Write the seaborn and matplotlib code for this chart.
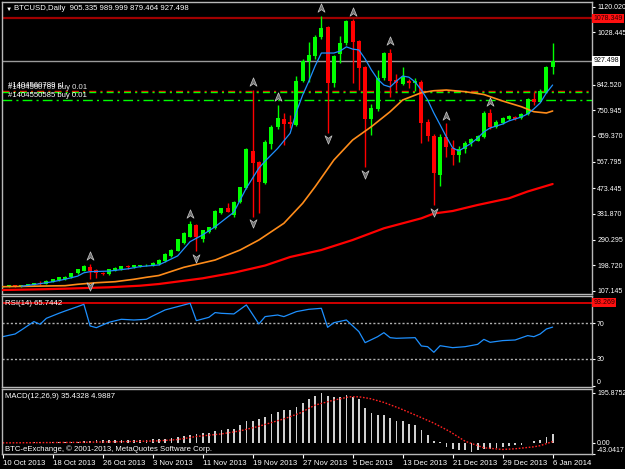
import numpy as np
import matplotlib
matplotlib.use('Agg')
import matplotlib.pyplot as plt
import seaborn as sns
from matplotlib import font_manager
from matplotlib.path import Path
from matplotlib.transforms import blended_transform_factory

sns.set_style('dark', {'axes.facecolor': 'black', 'figure.facecolor': 'black'})
plt.rcParams['font.family'] = ['Liberation Sans', 'DejaVu Sans']

# --- daily candles, 10 Oct 2013 .. 6 Jan 2014 (bar index 0..88) ---
opens = [123, 124, 125, 123, 127, 129, 135, 132, 140, 145, 150, 157, 170, 180, 194, 182, 172, 168, 180, 186,
         196, 192, 196, 198, 200, 203, 213, 232, 251, 277, 301, 342, 291, 318, 331, 384, 402, 378, 425, 473,
         607, 566, 493, 631, 690, 720, 710, 699, 855, 925, 945, 1012, 1049, 847, 950, 990, 1070, 997, 906, 719,
         755, 865, 956, 859, 846, 855, 847, 853, 710, 659, 520, 655, 616, 592, 612, 633, 643, 657, 740, 692,
         707, 719, 728, 722, 738, 790, 782, 817, 905.335]
highs = [126, 127, 128, 130, 132, 137, 143, 146, 151, 158, 160, 172, 186, 198, 205, 185, 176, 186, 192, 197,
         198, 201, 201, 202, 209, 220, 241, 256, 294, 316, 355, 345, 326, 336, 395, 404, 422, 428, 478, 616,
         823, 570, 645, 700, 770, 740, 734, 873, 935, 995, 1020, 1088, 1052, 948, 1015, 1073, 1075, 1000, 910, 775,
         894, 960, 970, 880, 906, 862, 866, 858, 720, 665, 665, 705, 645, 625, 640, 652, 662, 748, 755, 715,
         726, 733, 732, 742, 793, 817, 826, 910, 989.999]
lows = [121, 122, 123, 122, 125, 127, 128, 131, 138, 143, 148, 154, 167, 177, 150, 152, 164, 165, 178, 183,
        186, 189, 193, 195, 196, 200, 210, 230, 248, 274, 298, 250, 282, 315, 328, 380, 388, 372, 420, 470,
        372, 384, 488, 612, 684, 627, 687, 695, 850, 850, 935, 1005, 671, 835, 919, 985, 848, 823, 548, 663,
        750, 860, 800, 823, 841, 830, 820, 633, 640, 413, 480, 586, 556, 568, 600, 625, 640, 652, 684, 688,
        703, 716, 718, 720, 735, 770, 780, 812, 879.464]
closes = [124, 125, 124, 128, 131, 136, 131, 144, 149, 156, 158, 170, 184, 196, 178, 172, 168, 184, 190, 195,
          193, 199, 200, 200, 207, 218, 238, 253, 291, 313, 345, 301, 324, 334, 393, 402, 390, 425, 476, 613,
          562, 497, 639, 692, 722, 702, 703, 855, 925, 947, 1013, 1045, 847, 944, 990, 1070, 995, 901, 719, 758,
          865, 956, 855, 847, 868, 847, 855, 705, 659, 526, 657, 621, 592, 613, 633, 648, 659, 740, 692, 710,
          724, 731, 721, 738, 790, 779, 820, 905, 927.498]

# moving averages (bar index, price)
blue_days = [3, 5, 8, 10, 12, 13, 14, 17, 20, 22, 25, 28, 30, 32, 34, 37, 39, 41, 42, 44, 46] + list(range(47, 89))
blue_vals = [124, 130, 140, 149, 160, 172, 176, 178, 186, 194, 200, 232, 283, 307, 336, 388, 474, 545, 570, 615, 669,
             745, 805, 855, 909, 955, 955, 955, 962, 977, 969, 966, 934, 895, 862, 841, 834, 855, 873, 869, 852,
             823, 788, 741, 699, 656, 617, 606, 620, 634, 652, 674, 688, 695, 702, 713, 720, 727, 738, 756, 777,
             813, 841]
orange_days = [0, 10, 12, 15, 18, 21, 23, 25, 29, 34, 38, 41, 45, 48, 50, 53, 56, 59, 62, 64, 67, 69, 71, 74,
               77, 80, 83, 85, 87, 88]
orange_vals = [122.4, 126, 131, 136.6, 140.2, 148.8, 155.9, 162.3, 191.5, 217.5, 253.2, 288.8, 348.3, 419.5,
               478.7, 573.8, 645.1, 692.6, 745.9, 787.6, 813.6, 820.7, 823.2, 817.2, 807.2, 784, 763.7, 745.9,
               741.3, 748.4]
red_days = [0, 6, 10, 17, 22, 25, 32, 37, 42, 46, 51, 56, 61, 67, 69, 72, 76, 81, 84, 88]
red_vals = [110.6, 113.1, 115.3, 120.3, 126.0, 132.0, 152.3, 172.3, 197.9, 228.2, 253.2, 288.8, 330.5, 366.1,
            383.2, 392.1, 413.6, 437.3, 461.6, 488.3]

fractal_up = [14, 30, 40, 44, 51, 56, 62, 71, 78]
fractal_down = [14, 31, 40, 52, 58, 69]

# RSI(14)
rsi_days = [0, 2, 3, 5, 6, 7, 9, 10, 12, 13, 14, 15, 17, 19, 21, 23, 24, 26, 28, 30, 31, 33, 34, 35, 37, 39, 41,
            42, 44, 45, 47, 49, 51, 52, 53, 55, 57, 58, 60, 61, 62, 63, 66, 67, 68, 69, 70, 72, 74, 76, 77, 78,
            80, 82, 84, 85, 86, 87, 88]
rsi_vals = [55, 58, 62.5, 71.9, 68.9, 75.6, 81.2, 83.8, 88.7, 91.3, 67, 65.1, 71.1, 74.5, 73.7, 74.5, 78.2, 85,
            88.7, 92.4, 73, 76.7, 82, 81.2, 80.5, 90.6, 69.3, 77.5, 79.3, 77.5, 83.1, 85.7, 86.8, 65.5, 70.7,
            73.7, 60.7, 48.3, 55, 59.5, 53.9, 53.2, 53.9, 44.6, 43.8, 37.5, 44.9, 42.7, 43.8, 46.4, 52, 48.7,
            50.6, 51.3, 56.2, 55, 58, 63.6, 65.74]

# MACD(12,26,9): main as histogram, signal as dotted line
macd_main = [0.3, 0.4, 0.6, 0.9, 1.2, 1.5, 1.6, 1.8, 2.0, 2.5, 3.0, 3.5, 5.3, 6.7, 8.0, 9.3, 9.3, 9.3, 10.7, 10.7,
             12, 12, 12, 12, 13.3, 14.7, 14.7, 17.3, 22.7, 27, 29.5, 36, 40, 40, 46.7, 50.7, 54.7, 56, 70.6, 86.6,
             86.6, 93.3, 102.6, 113.3, 119.9, 128.9, 128.9, 141.8, 157.2, 171.4, 183, 195.88, 183, 180.4,
             177.8, 185.6, 180.4, 170.1, 137.9, 116, 109.5, 110.8, 99.2, 87.6, 83.8, 74.7, 68.3, 49, 32.2, 6.4,
             2.6, -15.5, -23.2, -29.6, -29.6, -34.8, -28.4, -25.8, -23.2, -20.6, -15.5, -12.9, -10.3, -6.4, -1.5,
             6.4, 12.9, 21.9, 35.43]
signal_days = [0, 12, 20, 25, 28, 31, 35, 38, 41, 45, 47.5, 50, 53, 55.5, 57, 58.7, 61, 63.5, 66, 69, 71.5, 74,
               77, 80, 82, 85, 86, 88]
signal_vals = [0, 2, 5, 8, 13, 25, 35, 47, 65, 94, 116, 148, 167.5, 180.4, 180.4, 174, 158.5, 135.3, 109.5,
               77.3, 45.1, 6.4, -19.3, -25.8, -23.2, -15.5, -11, 4.99]

date_ticks = [0, 8, 16, 24, 32, 40, 48, 56, 64, 72, 80, 88]
date_labels = ['10 Oct 2013', '18 Oct 2013', '26 Oct 2013', '3 Nov 2013', '11 Nov 2013', '19 Nov 2013',
               '27 Nov 2013', '5 Dec 2013', '13 Dec 2013', '21 Dec 2013', '29 Dec 2013', '6 Jan 2014']
price_ticks = [1120.020, 1028.445, 842.520, 750.945, 659.370, 567.795, 473.445, 381.870, 290.295, 198.720, 107.145]

W, H = 625, 469
fig = plt.figure(figsize=(W / 100, H / 100), dpi=100)
fs = 5.6

# narrow face for the price scale if it is installed, else a smaller regular one
installed = {f.name for f in font_manager.fontManager.ttflist}
if 'Liberation Sans Narrow' in installed:
    scale_font = dict(family=['Liberation Sans Narrow', 'DejaVu Sans'], size=6.0)
else:
    scale_font = dict(family=['Liberation Sans', 'DejaVu Sans'], size=5.0)


def px_axes(top, bottom, left=2, right=592):
    return fig.add_axes([left / W, 1 - bottom / H, (right - left) / W, (bottom - top) / H])


def px_text(x, y, s, size=fs, **kw):
    fig.text(x / W, 1 - y / H, s, color='white', fontsize=size, va='center', ha='left', **kw)


def box_label(a, y, s, fc, tc):
    tr = blended_transform_factory(a.transAxes, a.transData)
    a.text(1.002, y, s, transform=tr, color=tc, fontfamily=scale_font['family'], fontsize=scale_font['size'],
           va='center', ha='left', clip_on=False, zorder=10,
           bbox=dict(boxstyle='square,pad=0.2', fc=fc, ec='none'))


ax = px_axes(2, 294)
ax_rsi = px_axes(296, 387)
ax_macd = px_axes(389, 454)

for a in (ax, ax_rsi, ax_macd):
    a.set_facecolor('black')
    a.grid(False)
    a.set_xlim(-0.1, 94.3)
    for sp in a.spines.values():
        sp.set_color('#b8b8b8')
        sp.set_linewidth(1)
    a.yaxis.tick_right()
    a.tick_params(axis='y', colors='white', labelcolor='white', length=2.5, width=0.8,
                  direction='out', pad=1.2, right=True, left=False)
    a.tick_params(axis='x', bottom=False, labelbottom=False)

# --- main price panel ---
days = np.arange(len(opens))
o, h, l, c = map(np.asarray, (opens, highs, lows, closes))
col = np.where(c >= o, '#00ff00', '#ff0000')

ax.axhline(820.7, color='#ff0000', lw=1, ls=(0, (5, 3, 1.5, 3)), zorder=1)
ax.axhline(815.0, color='#00ff00', lw=1, ls=(0, (5, 3, 1.5, 3)), zorder=1)
ax.axhline(786.5, color='#00ff00', lw=1, ls=(0, (7, 3, 1.5, 3)), zorder=1)
ax.axhline(1078.349, color='#a00000', lw=1.6, zorder=1)
ax.axhline(927.498, color='#9a9a9a', lw=1, zorder=1)

ax.vlines(days, l, h, colors=col, lw=1, zorder=3)
ax.bar(days, np.maximum(np.abs(c - o), 3), bottom=np.minimum(o, c), width=0.62, color=col, lw=0, zorder=4)

sns.lineplot(x=red_days, y=red_vals, ax=ax, color='#ff0000', lw=1.6, zorder=5)
sns.lineplot(x=orange_days, y=orange_vals, ax=ax, color='#ff8c1a', lw=1.2, zorder=5)
sns.lineplot(x=blue_days, y=blue_vals, ax=ax, color='#1e90ff', lw=0.9, zorder=6)

chev = Path([(0, 1), (0.75, -0.8), (0, -0.25), (-0.75, -0.8), (0, 1)],
            [Path.MOVETO, Path.LINETO, Path.LINETO, Path.LINETO, Path.CLOSEPOLY])
chev_dn = Path(chev.vertices * [1, -1], chev.codes)
ax.scatter(fractal_up, h[fractal_up] + 27, marker=chev, s=45, fc='#6e6e6e', ec='#c8c8c8', lw=0.5, zorder=7)
ax.scatter(fractal_down, l[fractal_down] - 24, marker=chev_dn, s=45, fc='#6e6e6e', ec='#c8c8c8', lw=0.5, zorder=7)

ax.set_ylim(96.4, 1136.8)
ax.set_yticks(price_ticks)
ax.set_yticklabels([f'{v:.3f}' for v in price_ticks])
ax.set_xlabel('')
ax.set_ylabel('')
box_label(ax, 1078.349, '1078.349', '#ff1010', '#300000')
box_label(ax, 927.498, '927.498', 'white', 'black')

# --- RSI panel ---
ax_rsi.axhline(70, color='#b0b0b0', lw=1, ls=(0, (1.5, 1.5)))
ax_rsi.axhline(30, color='#b0b0b0', lw=1, ls=(0, (1.5, 1.5)))
ax_rsi.axhline(93.269, color='#d00000', lw=1.4)
sns.lineplot(x=rsi_days, y=rsi_vals, ax=ax_rsi, color='#1e90ff', lw=0.9)
ax_rsi.set_ylim(-1.4, 100.6)
ax_rsi.set_yticks([70, 30, 0])
ax_rsi.set_yticklabels(['70', '30', '0'])
ax_rsi.set_xlabel('')
ax_rsi.set_ylabel('')
box_label(ax_rsi, 93.269, '93.269', '#ff1010', '#300000')

# --- MACD panel ---
ax_macd.bar(days, macd_main, width=0.28, color='#d0d0d0', lw=0)
sns.lineplot(x=signal_days, y=signal_vals, ax=ax_macd, color='#ff2020', lw=1, ls=(0, (1.2, 1.2)))
ax_macd.set_ylim(-43.6, 211)
ax_macd.set_yticks([195.8752, 0, -43.0417])
ax_macd.set_yticklabels(['195.8752', '0.00', '-43.0417'])
ax_macd.set_xlabel('')
ax_macd.set_ylabel('')
ax_macd.set_xticks(date_ticks)
ax_macd.set_xticklabels(date_labels)
ax_macd.tick_params(axis='x', bottom=True, labelbottom=True, colors='white', labelcolor='white',
                    labelsize=fs, length=3, width=0.8, direction='out', pad=1.5)
for lab in ax_macd.get_xticklabels():
    lab.set_ha('left')

for a in (ax, ax_rsi, ax_macd):
    for lab in a.get_yticklabels():
        lab.set_fontfamily(scale_font['family'])
        lab.set_fontsize(scale_font['size'])
# keep the bottom labels of the lower panels inside their own window
ax_rsi.get_yticklabels()[-1].set_va('bottom')
ax_macd.get_yticklabels()[-1].set_va('bottom')

# --- texts ---
px_text(6, 9, '▼', size=4.5)
px_text(14, 9, 'BTCUSD,Daily  905.335 989.999 879.464 927.498')
px_text(8, 87.5, '#1404560789 buy 0.01', alpha=0.9)
px_text(8, 85.5, '#1404560789 sl')
px_text(8, 95.5, '#1404550585 buy 0.01')
px_text(5, 303.5, 'RSI(14) 65.7442')
px_text(5, 396, 'MACD(12,26,9) 35.4328 4.9887')
px_text(5, 449, 'BTC-eExchange, © 2001-2013, MetaQuotes Software Corp.')

fig.savefig('out.png', dpi=100, facecolor='black')
